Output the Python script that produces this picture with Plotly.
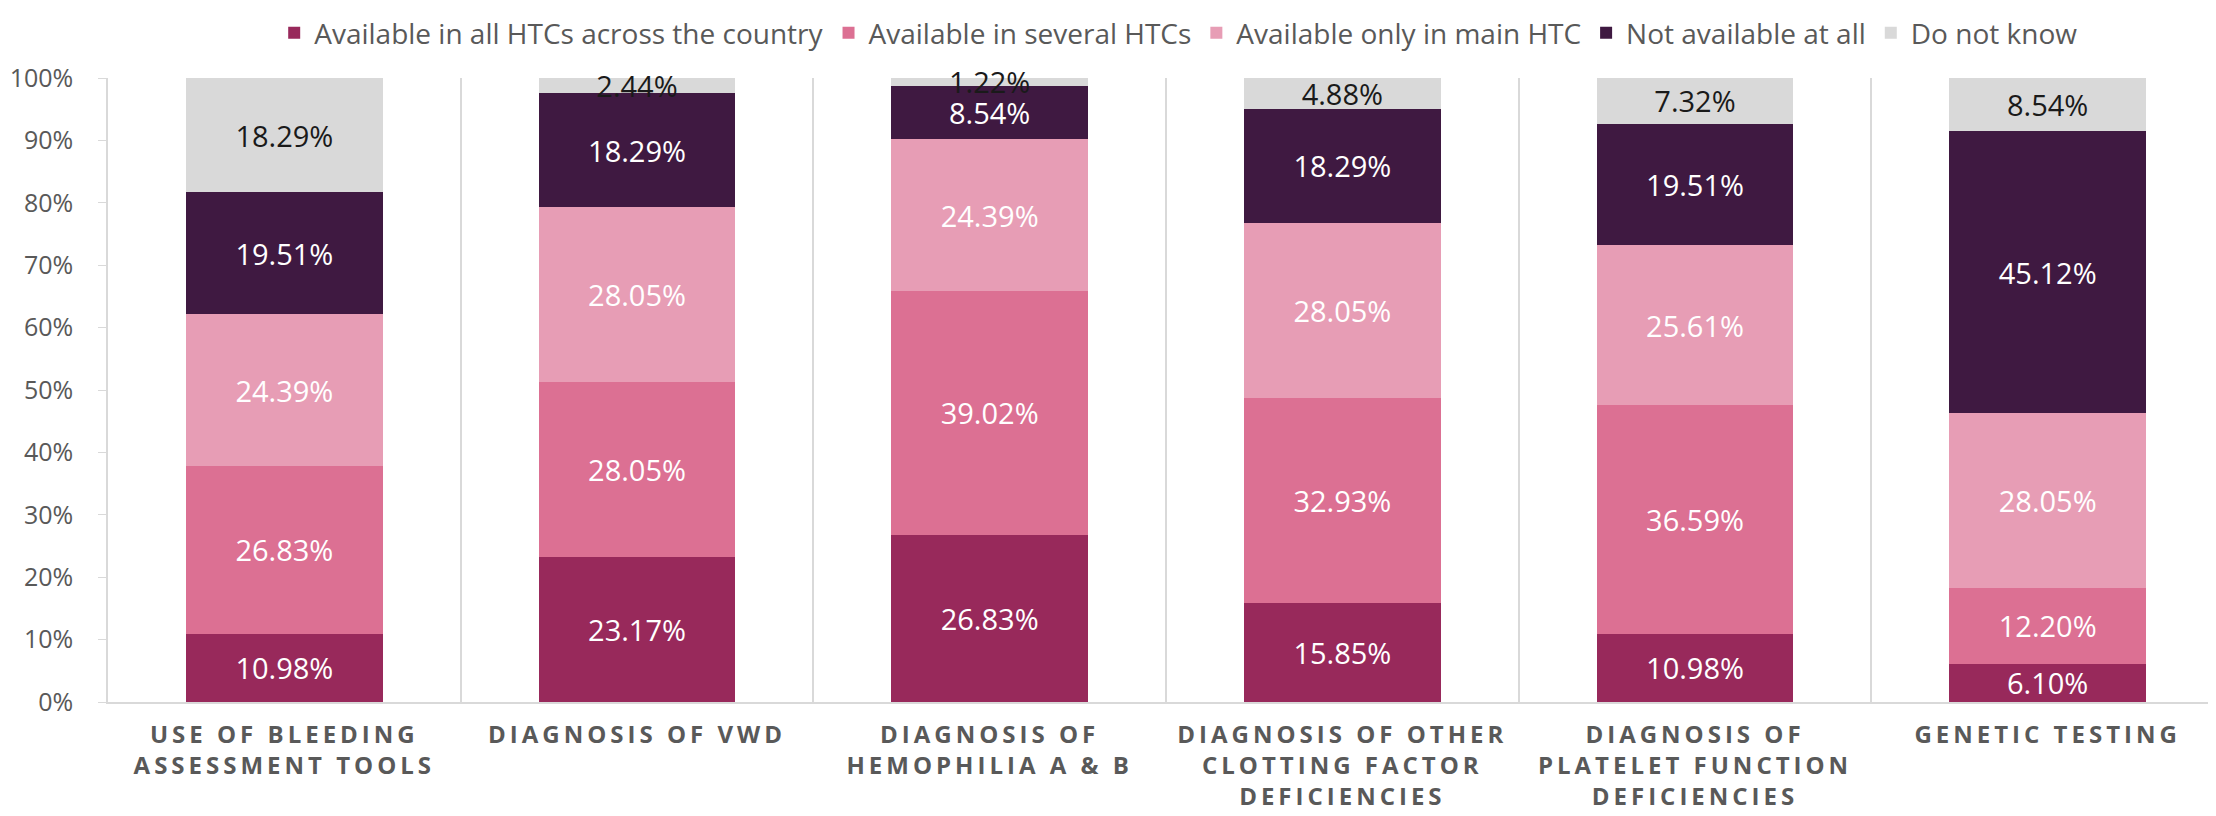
import plotly.graph_objects as go

categories = [
    "USE OF BLEEDING<br>ASSESSMENT TOOLS",
    "DIAGNOSIS OF VWD",
    "DIAGNOSIS OF<br>HEMOPHILIA A &amp; B",
    "DIAGNOSIS OF OTHER<br>CLOTTING FACTOR<br>DEFICIENCIES",
    "DIAGNOSIS OF<br>PLATELET FUNCTION<br>DEFICIENCIES",
    "GENETIC TESTING",
]

series_names = [
    "Available in all HTCs across the country",
    "Available in several HTCs",
    "Available only in main HTC",
    "Not available at all",
    "Do not know",
]

available_all = [10.98, 23.17, 26.83, 15.85, 10.98, 6.10]
available_several = [26.83, 28.05, 39.02, 32.93, 36.59, 12.20]
available_main = [24.39, 28.05, 24.39, 28.05, 25.61, 28.05]
not_available = [19.51, 18.29, 8.54, 18.29, 19.51, 45.12]
do_not_know = [18.29, 2.44, 1.22, 4.88, 7.32, 8.54]

series_values = [available_all, available_several, available_main, not_available, do_not_know]
colors = ["#98295b", "#dc7093", "#e79db5", "#3f1941", "#d9d9d9"]
text_colors = ["#ffffff", "#ffffff", "#ffffff", "#ffffff", "#1a1a1a"]

fig = go.Figure()
for i, (name, vals, col, tcol) in enumerate(zip(series_names, series_values, colors, text_colors)):
    fig.add_trace(go.Bar(
        x=categories, y=vals, name=name, legendgroup=f"g{i}",
        marker=dict(color=col, line=dict(width=0)),
        text=[f"{v:.2f}%" for v in vals],
        textposition="inside", insidetextanchor="middle",
        textfont=dict(family="Open Sans", size=29, color=tcol),
        cliponaxis=False,
    ))

fig.update_layout(
    width=2216, height=816,
    barmode="stack", bargap=0.442,
    paper_bgcolor="white", plot_bgcolor="white",
    margin=dict(l=100, r=0, t=65, b=122),
    uniformtext=dict(minsize=29, mode="show"),
    legend=dict(
        orientation="h", x=0.506, xanchor="center", y=1.072, yanchor="middle",
        font=dict(family="Open Sans", size=28, color="#595959"),
        traceorder="normal", itemwidth=30, tracegroupgap=40,
    ),
    xaxis=dict(
        showgrid=True, tickson="boundaries", gridcolor="#d9d9d9", gridwidth=1.5,
        showline=True, linecolor="#d9d9d9", linewidth=2,
        ticks="", ticklabelstandoff=10,
        tickfont=dict(family="Open Sans", size=24, color="#595959", weight="bold"),
    ),
    yaxis=dict(
        range=[0, 100.02], tickvals=[0, 10, 20, 30, 40, 50, 60, 70, 80, 90, 100],
        ticktext=[f"{t}%" for t in range(0, 101, 10)],
        showgrid=False, zeroline=False,
        showline=True, linecolor="#d9d9d9", linewidth=1.5,
        ticks="outside", ticklen=8, tickcolor="#d9d9d9",
        ticklabelstandoff=20,
        tickfont=dict(family="Open Sans", size=25, color="#595959"),
    ),
)

post = """
document.querySelectorAll('.xtick text').forEach(function(t){ t.style.letterSpacing='4px'; });
"""
fig.write_html("out.html", post_script=post)
